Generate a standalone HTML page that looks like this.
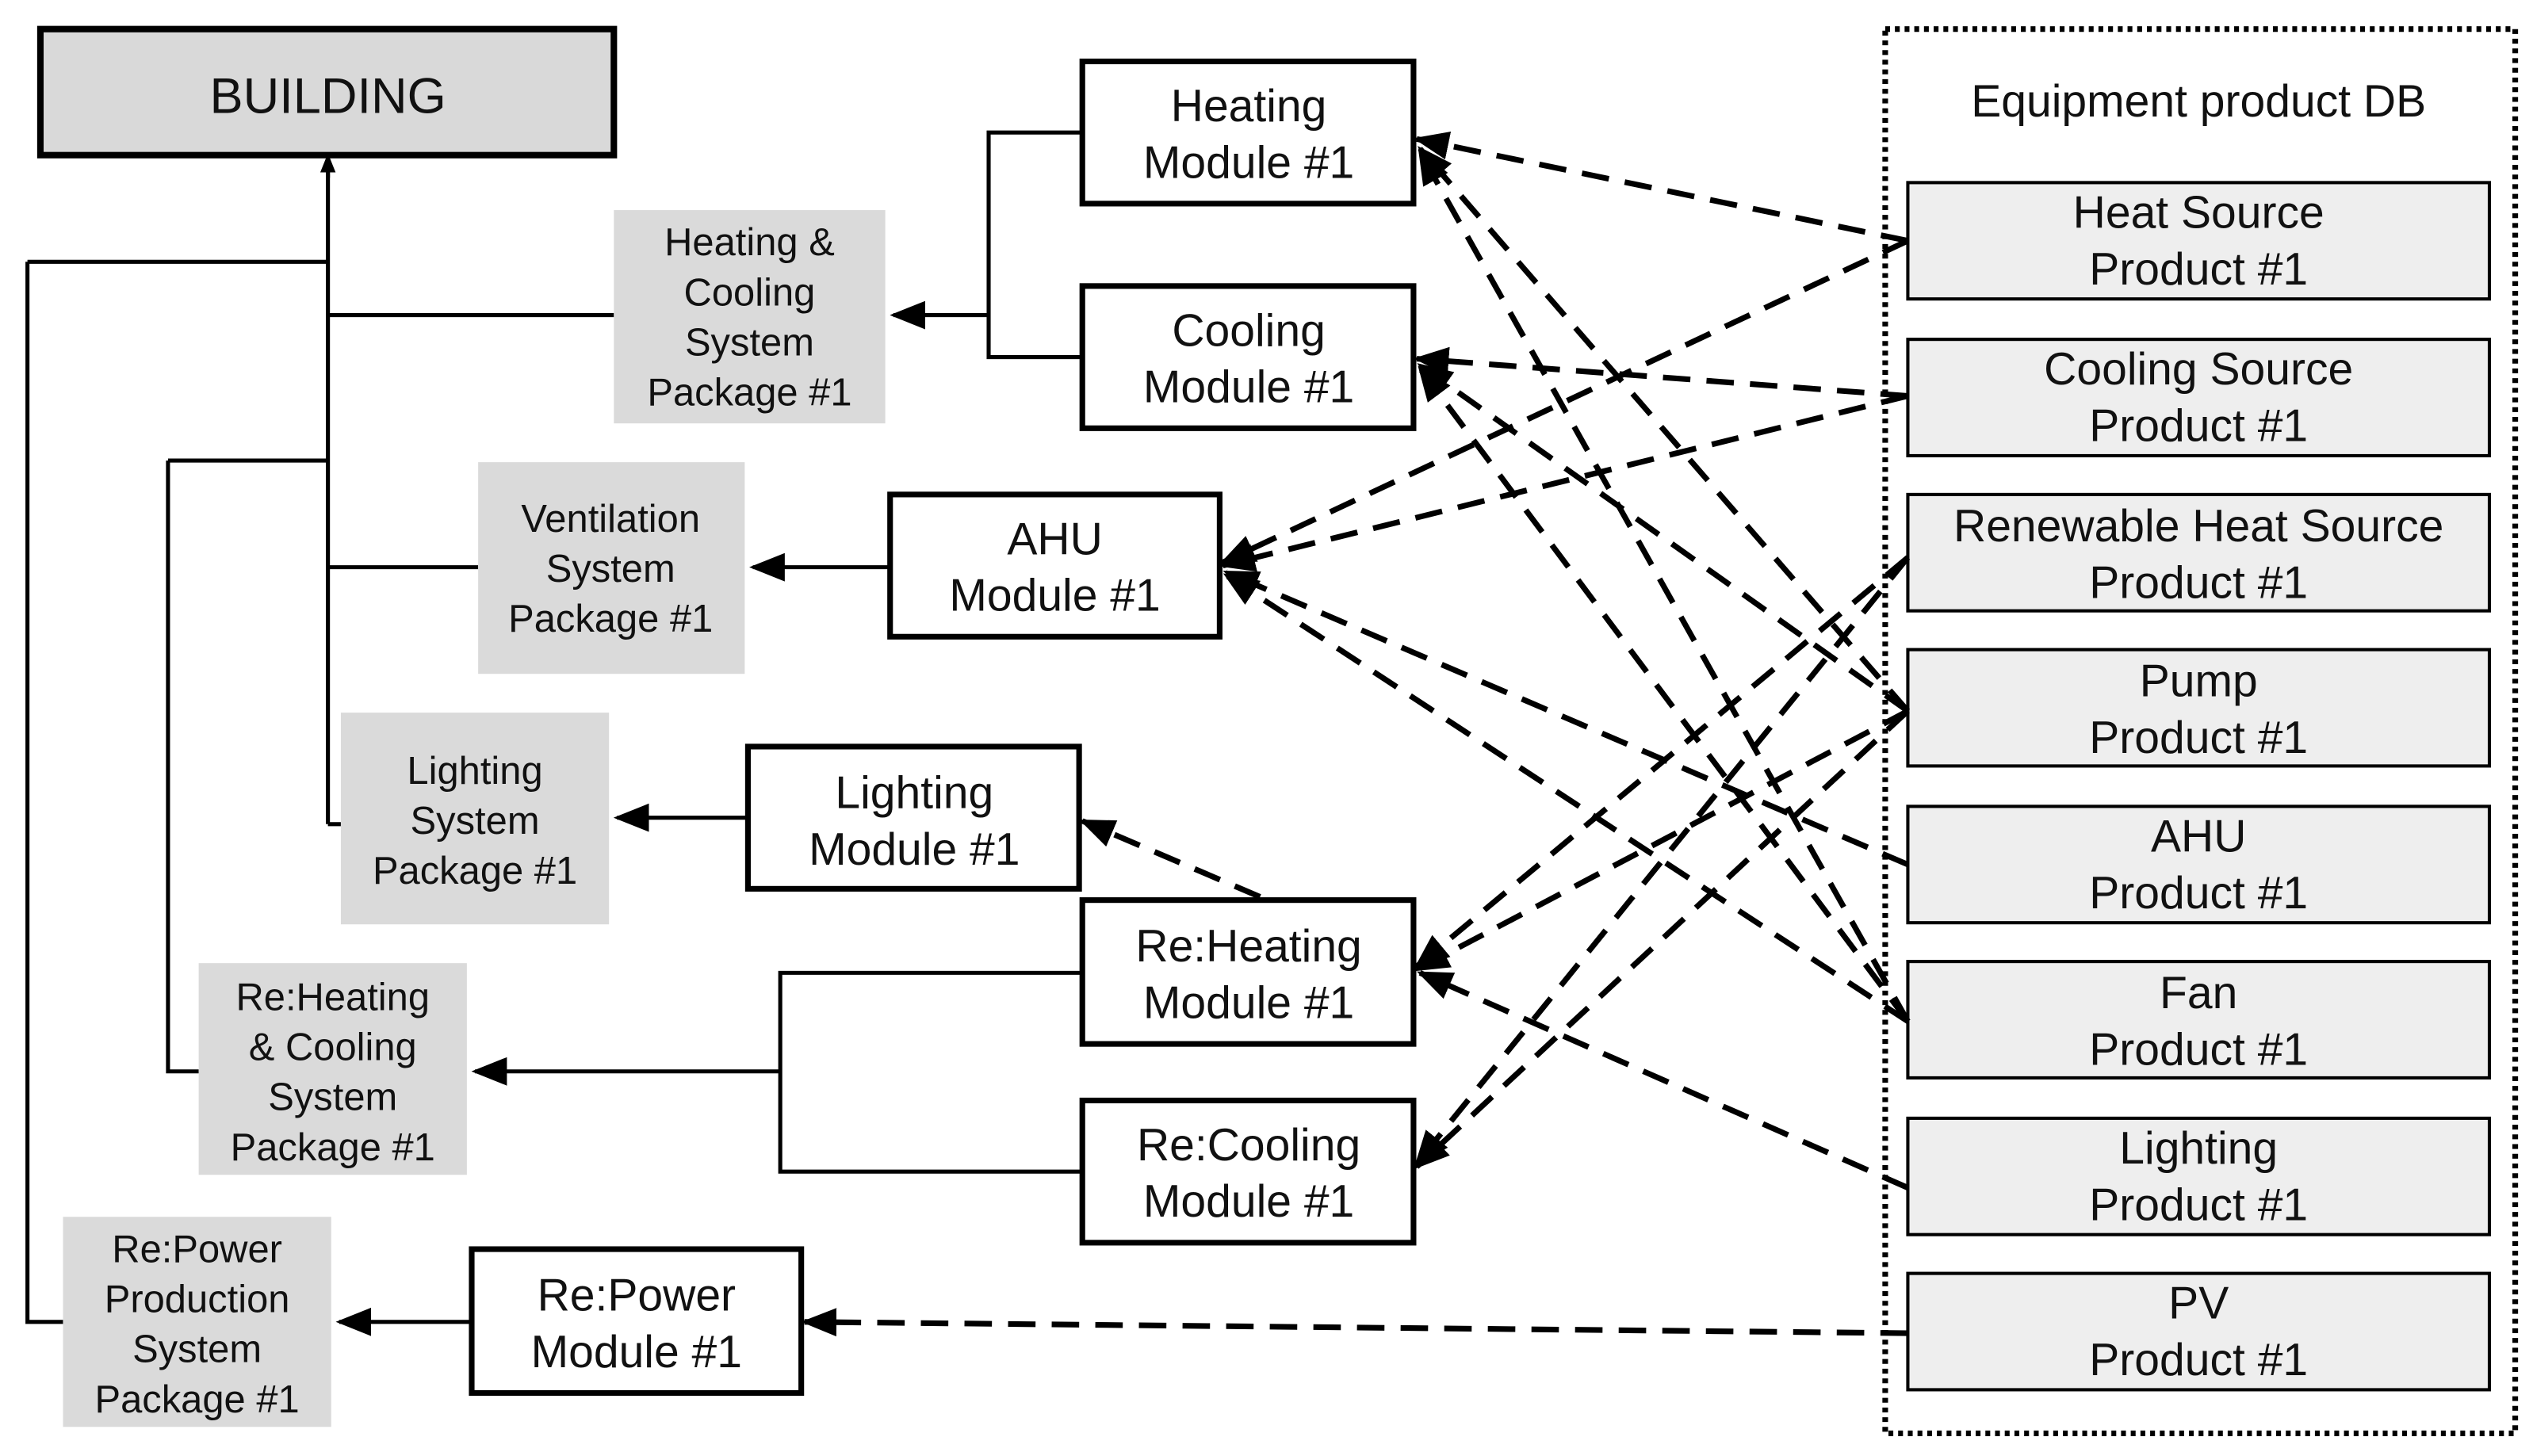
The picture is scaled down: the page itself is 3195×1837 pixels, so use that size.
<!DOCTYPE html>
<html><head><meta charset="utf-8"><style>
html,body{margin:0;padding:0;background:#fff;}
svg{display:block;}
text{font-family:"Liberation Sans","Noto Sans CJK KR",sans-serif;fill:#111;text-anchor:middle;}
</style></head><body>
<svg width="3195" height="1837" viewBox="0 0 1568 901" preserveAspectRatio="none" xmlns="http://www.w3.org/2000/svg">
<defs>
<marker id="a" viewBox="0 0 10 10" refX="9" refY="5" markerWidth="12" markerHeight="12" orient="auto" markerUnits="userSpaceOnUse"><path d="M0,1 L10,5 L0,9 z" fill="#000"/></marker>
<marker id="b" viewBox="0 0 10 10" refX="9" refY="5" markerWidth="22" markerHeight="22" orient="auto" markerUnits="userSpaceOnUse"><path d="M0,1 L10,5 L0,9 z" fill="#000"/></marker>
</defs>
<g stroke="#000" stroke-width="2.5" fill="none">
<path d="M203,510 V100"/>
<path d="M203,110 V96" marker-end="url(#a)"/>
<path d="M203,510 H211 M203,195 H380 M203,351 H296"/>
<path d="M17,162 H203 M17,162 V818 H39"/>
<path d="M104,285 H203 M104,285 V663 H123"/>
<path d="M670,82 H612 V221 H670"/>
<path d="M612,195 H553" marker-end="url(#b)"/>
<path d="M551,351 H466" marker-end="url(#b)"/>
<path d="M463,506 H382" marker-end="url(#b)"/>
<path d="M670,602 H483 V725 H670"/>
<path d="M483,663 H294" marker-end="url(#b)"/>
<path d="M292,818 H210" marker-end="url(#b)"/>
</g>
<rect x="25" y="18" width="355" height="78" fill="#d9d9d9" stroke="#000" stroke-width="4"/>
<text x="203" y="70" font-size="31">BUILDING</text>
<g fill="#dadada">
<rect x="380" y="130" width="168" height="132"/>
<rect x="296" y="286" width="165" height="131"/>
<rect x="211" y="441" width="166" height="131"/>
<rect x="123" y="596" width="166" height="131"/>
<rect x="39" y="753" width="166" height="130"/>
</g>
<g font-size="24">
<text x="464" y="158">Heating &amp;</text><text x="464" y="189">Cooling</text><text x="464" y="220">System</text><text x="464" y="251">Package #1</text>
<text x="378" y="329">Ventilation</text><text x="378" y="360">System</text><text x="378" y="391">Package #1</text>
<text x="294" y="485">Lighting</text><text x="294" y="516">System</text><text x="294" y="547">Package #1</text>
<text x="206" y="625">Re:Heating</text><text x="206" y="656">&amp; Cooling</text><text x="206" y="687">System</text><text x="206" y="718">Package #1</text>
<text x="122" y="781">Re:Power</text><text x="122" y="812">Production</text><text x="122" y="843">System</text><text x="122" y="874">Package #1</text>
</g>
<g fill="#fff" stroke="#000" stroke-width="3.5">
<rect x="670" y="38" width="205" height="88"/>
<rect x="670" y="177" width="205" height="88"/>
<rect x="551" y="306" width="204" height="88"/>
<rect x="463" y="462" width="205" height="88"/>
<rect x="670" y="557" width="205" height="89"/>
<rect x="670" y="681" width="205" height="88"/>
<rect x="292" y="773" width="204" height="89"/>
</g>
<g font-size="28">
<text x="773" y="75">Heating</text><text x="773" y="110">Module #1</text>
<text x="773" y="214">Cooling</text><text x="773" y="249">Module #1</text>
<text x="653" y="343">AHU</text><text x="653" y="378">Module #1</text>
<text x="566" y="500">Lighting</text><text x="566" y="535">Module #1</text>
<text x="773" y="595">Re:Heating</text><text x="773" y="630">Module #1</text>
<text x="773" y="718">Re:Cooling</text><text x="773" y="753">Module #1</text>
<text x="394" y="811">Re:Power</text><text x="394" y="846">Module #1</text>
</g>
<rect x="1167" y="18" width="390" height="869" fill="none" stroke="#000" stroke-width="3.5" stroke-dasharray="3 3"/>
<text x="1361" y="72" font-size="28">Equipment product DB</text>
<g fill="#eeeeee" stroke="#000" stroke-width="2">
<rect x="1181" y="113" width="360" height="72"/>
<rect x="1181" y="210" width="360" height="72"/>
<rect x="1181" y="306" width="360" height="72"/>
<rect x="1181" y="402" width="360" height="72"/>
<rect x="1181" y="499" width="360" height="72"/>
<rect x="1181" y="595" width="360" height="72"/>
<rect x="1181" y="692" width="360" height="72"/>
<rect x="1181" y="788" width="360" height="72"/>
</g>
<g font-size="28">
<text x="1361" y="141">Heat Source</text><text x="1361" y="176">Product #1</text>
<text x="1361" y="238">Cooling Source</text><text x="1361" y="273">Product #1</text>
<text x="1361" y="335">Renewable Heat Source</text><text x="1361" y="370">Product #1</text>
<text x="1361" y="431">Pump</text><text x="1361" y="466">Product #1</text>
<text x="1361" y="527">AHU</text><text x="1361" y="562">Product #1</text>
<text x="1361" y="624">Fan</text><text x="1361" y="659">Product #1</text>
<text x="1361" y="720">Lighting</text><text x="1361" y="755">Product #1</text>
<text x="1361" y="816">PV</text><text x="1361" y="851">Product #1</text>
</g>
<g stroke="#000" stroke-width="3.5" fill="none" stroke-dasharray="17 10" marker-end="url(#b)">
<path d="M1181,149 L877,86"/>
<path d="M1181,440 L879,92"/>
<path d="M1181,632 L879,94"/>
<path d="M1181,245 L877,222"/>
<path d="M1181,440 L879,226"/>
<path d="M1181,632 L879,228"/>
<path d="M1181,149 L757,348"/>
<path d="M1181,245 L757,350"/>
<path d="M1181,535 L759,354"/>
<path d="M1181,632 L759,356"/>
<path d="M1181,345 L877,598"/>
<path d="M1181,440 L877,600"/>
<path d="M1181,735 L879,602"/>
<path d="M1181,345 L877,720"/>
<path d="M1181,440 L877,722"/>
<path d="M780,555 L670,508"/>
<path d="M1181,825 L498,818"/>
</g>
</svg>
</body></html>
